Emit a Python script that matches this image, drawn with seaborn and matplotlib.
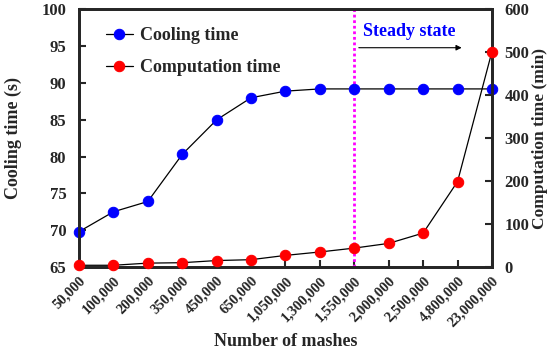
import numpy as np
import pandas as pd
import matplotlib
matplotlib.use("Agg")
import matplotlib.pyplot as plt
import seaborn as sns

# données
meshes = ["50,000", "100,000", "200,000", "350,000", "450,000", "650,000",
          "1,050,000", "1,300,000", "1,550,000", "2,000,000", "2,500,000",
          "4,800,000", "23,000,000"]
cooling_time = [69.8, 72.5, 73.9, 80.3, 85.0, 88.0, 88.9, 89.2, 89.2, 89.2, 89.2, 89.2, 89.2]
computation_time = [4, 4, 9, 10, 15, 17, 27, 35, 44, 55, 79, 199, 502]
steady_index = 8

sns.set_style("ticks")
plt.rcParams['font.family'] = ['Liberation Serif', 'DejaVu Serif']
plt.rcParams['font.weight'] = 'bold'
plt.rcParams['axes.linewidth'] = 2.0

df = pd.DataFrame({"pos": np.arange(len(meshes)), "cool": cooling_time, "comp": computation_time})

fig = plt.figure(figsize=(5.5, 3.54), dpi=100)
ax = fig.add_axes([0.1436, 0.2458, 0.7509, 0.7275])
ax2 = ax.twinx()

sns.lineplot(data=df, x="pos", y="cool", ax=ax, color="black", lw=0.9, marker="o",
             markersize=7.5, markerfacecolor="blue", markeredgecolor="blue",
             label="Cooling time", clip_on=False, zorder=5)
sns.lineplot(data=df, x="pos", y="comp", ax=ax2, color="black", lw=0.9, marker="o",
             markersize=7.5, markerfacecolor="red", markeredgecolor="red",
             label="Computation time", clip_on=False, zorder=5)

ax.set_xlim(0, len(meshes) - 1)
ax.set_ylim(65, 100)
ax.set_yticks(np.arange(65, 101, 5))
ax2.set_ylim(0, 600)
ax2.set_yticks(np.arange(0, 601, 100))

ax.set_xticks(df["pos"])
ax.set_xticklabels(meshes, rotation=45, ha="right", rotation_mode="anchor", fontsize=10.5)
ax.tick_params(axis="y", direction="in", width=1.5, length=5, labelsize=12, pad=9)
ax.tick_params(axis="x", direction="in", width=1.5, length=5, labelsize=10.5, pad=5)
ax2.tick_params(axis="y", direction="in", width=1.5, length=5, labelsize=12, pad=9)

ax.set_xlabel("Number of mashes", fontsize=13, fontweight="bold", labelpad=3)
ax.set_ylabel("Cooling time (s)", fontsize=13, fontweight="bold", labelpad=14)
ax2.set_ylabel("Computation time (min)", fontsize=12.5, fontweight="bold", labelpad=2)

# ligne de l'état stationnaire
ax.axvline(steady_index, color="magenta", ls=(0, (1, 1)), lw=2)
ax.text(steady_index + 0.25, 97.0, "Steady state", color="blue", fontsize=13,
        fontweight="bold", va="center")
ax.annotate("", xy=(11.2, 94.8), xytext=(8.05, 94.8),
            arrowprops=dict(arrowstyle="-|>", color="black", lw=0.8, mutation_scale=8))

h1, l1 = ax.get_legend_handles_labels()
h2, l2 = ax2.get_legend_handles_labels()
ax2.get_legend().remove()
ax.legend(h1 + h2, l1 + l2, loc="upper left", bbox_to_anchor=(0.025, 0.995),
          frameon=False, fontsize=13, labelspacing=0.85, handlelength=1.5,
          handletextpad=0.4)

fig.savefig("out.png", dpi=100)
